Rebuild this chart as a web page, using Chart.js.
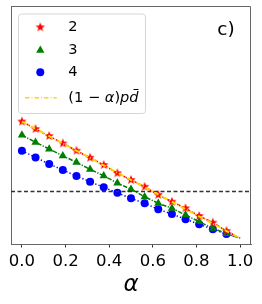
<!DOCTYPE html>
<html>
<head>
<meta charset="utf-8">
<script src="https://cdn.jsdelivr.net/npm/chart.js@4.4.0/dist/chart.umd.min.js"></script>
<style>
html, body { margin: 0; padding: 0; background: #fff; }
</style>
</head>
<body>
<canvas id="grafico" width="262" height="304"></canvas>
<script>
// valores (painel c)
const alfa = [0, 0.0625, 0.125, 0.1875, 0.25, 0.3125, 0.375, 0.4375, 0.5, 0.5625, 0.625, 0.6875, 0.75, 0.8125, 0.875, 0.9375];
const grau2 = [1.0, 0.936, 0.876, 0.813, 0.75, 0.69, 0.628, 0.558, 0.5, 0.442, 0.372, 0.313, 0.257, 0.191, 0.134, 0.063];
const grau3 = [0.884, 0.822, 0.765, 0.707, 0.651, 0.591, 0.535, 0.473, 0.42, 0.356, 0.30, 0.257, 0.2, 0.142, 0.086, 0.04];
const grau4 = [0.75, 0.693, 0.636, 0.585, 0.533, 0.484, 0.437, 0.389, 0.342, 0.30, 0.248, 0.208, 0.163, 0.12, 0.077, 0.037];
const fimAlfa = 1;
const fimValor = 0;
const teoriaAlfa = [0, 1];
const teoriaValor = [1, 0];
const limiar = 0.40;
const xTicks = [0, 0.2, 0.4, 0.6, 0.8, 1.0];
const legendas = ['2', '3', '4', '(1 − α)pd̄'];

const FONTE = 'DejaVu Sans';
const VERMELHO = '#ff0000';
const VERDE = '#008000';
const AZUL = '#0000ff';
const AMARELO = '#ffd700';

function pontos(xs, ys) {
    return xs.map((x, i) => ({ x: x, y: ys[i] }));
}
function comFim(xs, ys) {
    return pontos(xs.concat([fimAlfa]), ys.concat([fimValor]));
}

// estrela cheia (o 'star' do Chart.js e um asterisco)
function estrela(r, cor) {
    const c = document.createElement('canvas');
    const s = Math.ceil(r * 2) + 2;
    c.width = s; c.height = s;
    const g = c.getContext('2d');
    g.beginPath();
    for (let i = 0; i < 10; i++) {
        const rr = i % 2 ? r * 0.42 : r;
        const a = -Math.PI / 2 + i * Math.PI / 5;
        g.lineTo(s / 2 + rr * Math.cos(a), s / 2 + rr * Math.sin(a));
    }
    g.closePath();
    g.fillStyle = cor;
    g.fill();
    return c;
}
const imgEstrela = estrela(4.9, VERMELHO);

const moldura = {
    id: 'moldura',
    afterDatasetsDraw(chart) {
        const { ctx, chartArea: a } = chart;
        ctx.save();
        ctx.strokeStyle = '#666';
        ctx.lineWidth = 1;
        ctx.beginPath();
        ctx.moveTo(a.left, a.top + 0.5);
        ctx.lineTo(a.right - 0.5, a.top + 0.5);
        ctx.lineTo(a.right - 0.5, a.bottom);
        ctx.stroke();
        ctx.restore();
    }
};

const legenda = {
    id: 'legenda',
    afterDraw(chart) {
        const ctx = chart.ctx;
        ctx.save();
        // caixa
        const bx = 18.5, by = 14, bw = 127, bh = 99.5, r = 3;
        ctx.beginPath();
        ctx.moveTo(bx + r, by);
        ctx.arcTo(bx + bw, by, bx + bw, by + bh, r);
        ctx.arcTo(bx + bw, by + bh, bx, by + bh, r);
        ctx.arcTo(bx, by + bh, bx, by, r);
        ctx.arcTo(bx, by, bx + bw, by, r);
        ctx.closePath();
        ctx.fillStyle = 'rgba(255,255,255,0.8)';
        ctx.fill();
        ctx.strokeStyle = '#d6d6d6';
        ctx.lineWidth = 1;
        ctx.stroke();

        const mx = 40.3, tx = 68.3;
        const linhas = [27.3, 50.3, 72.3, 97.8];
        ctx.drawImage(imgEstrela, mx - imgEstrela.width / 2, linhas[0] - imgEstrela.height / 2);
        // triangulo
        const rt = 4.8;
        ctx.beginPath();
        ctx.moveTo(mx, linhas[1] - rt);
        ctx.lineTo(mx + rt * 0.866, linhas[1] + rt * 0.5);
        ctx.lineTo(mx - rt * 0.866, linhas[1] + rt * 0.5);
        ctx.closePath();
        ctx.fillStyle = VERDE;
        ctx.fill();
        ctx.beginPath();
        ctx.arc(mx, linhas[2], 4, 0, Math.PI * 2);
        ctx.fillStyle = AZUL;
        ctx.fill();
        ctx.beginPath();
        ctx.setLineDash([4.5, 2, 1, 2]);
        ctx.strokeStyle = AMARELO;
        ctx.lineWidth = 1.5;
        ctx.moveTo(25, linhas[3]);
        ctx.lineTo(56.7, linhas[3]);
        ctx.stroke();
        ctx.setLineDash([]);

        ctx.fillStyle = '#000';
        ctx.textBaseline = 'middle';
        ctx.textAlign = 'left';
        const tam = 14.6;
        for (let i = 0; i < 3; i++) {
            ctx.font = tam + 'px "' + FONTE + '"';
            ctx.fillText(legendas[i], tx, linhas[i]);
        }
        // rotulo em modo matematico: letras em italico, macron desenhado
        let x = tx;
        let ultimo = 0;
        for (const ch of legendas[3]) {
            if (ch === '\u0304') {
                ctx.beginPath();
                ctx.strokeStyle = '#000';
                ctx.lineWidth = 1;
                ctx.moveTo(x - ultimo * 0.55, linhas[3] - 8.3);
                ctx.lineTo(x - ultimo * 0.02, linhas[3] - 8.3);
                ctx.stroke();
                continue;
            }
            const it = /[a-zα]/.test(ch);
            ctx.font = (it ? 'italic ' : '') + tam + 'px "' + FONTE + '"';
            ctx.fillText(ch, x, linhas[3]);
            ultimo = ctx.measureText(ch).width;
            x += ultimo;
        }

        ctx.font = '18.5px "' + FONTE + '"';
        ctx.textAlign = 'center';
        ctx.fillText('c)', 226, 30);
        ctx.restore();
    }
};

Chart.defaults.font.family = FONTE;

const grafico = new Chart(document.getElementById('grafico').getContext('2d'), {
    type: 'line',
    data: {
        datasets: [
            { data: pontos(teoriaAlfa, teoriaValor), borderColor: AMARELO, borderWidth: 2, borderDash: [5, 2, 1, 2], pointRadius: 0, order: 0 },
            { data: comFim(alfa, grau2), borderColor: VERMELHO, borderWidth: 1.5, borderDash: [3.5, 2], pointRadius: 0, order: 1 },
            { data: comFim(alfa, grau3), borderColor: VERDE, borderWidth: 1.5, borderDash: [4.5, 1.5, 1.2, 1.5], pointRadius: 0, order: 1 },
            { data: comFim(alfa, grau4), borderColor: AZUL, borderWidth: 1.5, borderDash: [1.3, 2.2], pointRadius: 0, order: 1 },
            { data: pontos([-0.05, 1.05], [limiar, limiar]), borderColor: '#333', borderWidth: 1.5, borderDash: [4, 2.5], pointRadius: 0, order: 1 },
            { data: pontos(alfa, grau2), showLine: false, pointStyle: imgEstrela, pointRadius: 4.9, order: 2 },
            { data: pontos(alfa, grau3), showLine: false, pointStyle: 'triangle', pointRadius: 4.8, pointBackgroundColor: VERDE, pointBorderWidth: 0, order: 2 },
            { data: pontos(alfa, grau4), showLine: false, pointStyle: 'circle', pointRadius: 4, pointBackgroundColor: AZUL, pointBorderWidth: 0, order: 2 }
        ]
    },
    options: {
        responsive: false,
        devicePixelRatio: 1,
        animation: false,
        events: [],
        layout: { padding: { top: 6, right: 11, left: 0, bottom: 0 } },
        plugins: { legend: { display: false }, tooltip: { enabled: false } },
        scales: {
            x: {
                type: 'linear',
                min: -0.05,
                max: 1.05,
                afterBuildTicks: s => { s.ticks = xTicks.map(v => ({ value: v })); },
                afterFit: s => { s.height = 60; },
                ticks: {
                    color: '#000',
                    padding: 4,
                    maxRotation: 0,
                    autoSkip: false,
                    font: { size: 16.5 },
                    callback: v => v.toFixed(1)
                },
                grid: { drawOnChartArea: false, tickLength: 3.5, tickColor: '#333', tickWidth: 1 },
                border: { color: '#666', width: 1 },
                title: {
                    display: true,
                    text: 'α',
                    color: '#000',
                    font: { size: 23, style: 'italic' },
                    padding: { top: 0, bottom: 5 }
                }
            },
            y: {
                min: -0.049,
                max: 1.99,
                afterFit: s => { s.width = 11; },
                ticks: { display: false },
                grid: { display: false },
                border: { display: true, color: '#666', width: 1 }
            }
        }
    },
    plugins: [moldura, legenda]
});
</script>
</body>
</html>
